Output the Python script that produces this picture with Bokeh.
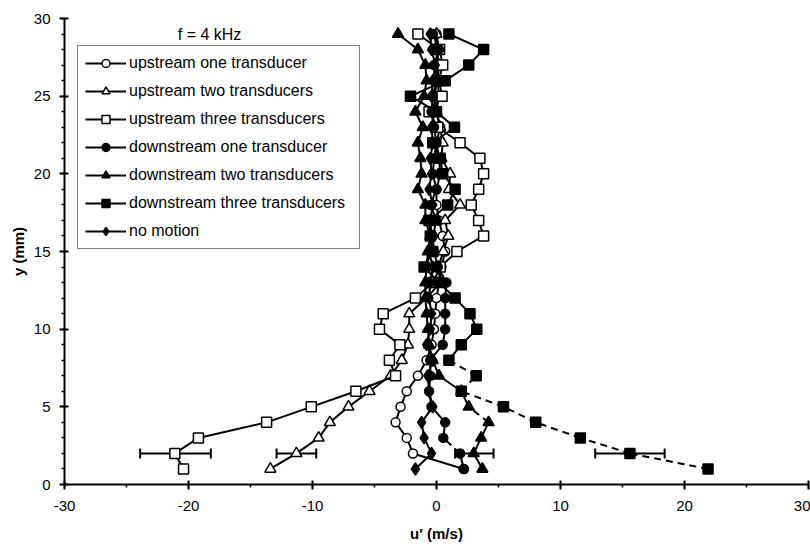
import numpy as np
from bokeh.plotting import figure
from bokeh.models import (Range1d, Legend, LegendItem, Whisker, TeeHead,
                          ColumnDataSource, Label, FixedTicker, CustomJSTickFormatter)
from bokeh.embed import file_html
from bokeh.resources import INLINE

# ---------------- data ----------------
y_mm = list(range(1, 30))

up_one = [2.2, -1.9, -2.4, -3.3, -2.9, -2.4, -1.5, -0.8, -0.4, -0.2, -0.1, 0.0, 0.2, 0.4,
          0.7, 0.5, 0.2, 0.0, 0.0, 0.3, 0.2, 0.0, 0.3, 0.0, 0.2, 0.1, 0.0, 0.2, 0.0]
up_two = [-13.4, -11.3, -9.5, -8.6, -7.1, -5.4, -3.7, -2.8, -2.3, -2.2, -2.2, -0.8, 0.3, 0.15,
          0.55, 0.95, 0.7, 1.9, 1.0, 1.1, 0.4, 0.5, 0.3, 0.0, -0.2, 0.1, 0.2, -0.1, 0.0]
up_three = [-20.4, -21.1, -19.2, -13.7, -10.1, -6.5, -3.3, -3.8, -2.95, -4.6, -4.3, -1.7, -0.3, 0.3,
            1.65, 3.8, 3.4, 2.8, 3.4, 3.8, 3.5, 1.9, 0.1, -0.6, 0.45, 0.2, 0.5, 0.25, -1.5]
down_one = [2.2, 1.9, 0.55, 0.7, -0.4, -0.6, -0.5, -0.5, 0.5, 0.7, 0.7, 0.7, 0.8, 0.1,
            -0.2, -0.3, 0.0, -0.5, 0.0, -0.3, -0.2, 0.0, -0.2, -0.4, -0.3, 0.0, -0.2, 0.2, -0.3]
down_two = [3.7, 3.0, 3.6, 4.2, 2.6, 2.0, 0.2, -0.3, -0.6, -0.7, -0.8, -0.9, -0.9, -0.8,
            -0.7, -0.5, -0.9, -0.9, -1.5, -1.2, -1.3, -1.5, -1.1, -1.7, -1.0, -0.8, -0.9, -1.5, -3.1]
down_three = [21.9, 15.6, 11.6, 8.0, 5.4, 2.0, 3.2, 1.0, 2.0, 3.25, 2.7, 1.5, 0.2, -1.0,
              -0.3, -0.5, -0.6, 0.9, 1.5, 0.5, 0.3, -0.3, 1.45, 0.0, -2.1, 0.7, 2.6, 3.8, 1.0]
no_motion = [-1.7, -0.4, -1.0, -1.2, -0.3, -0.6, -0.7, -0.3, -0.8, -0.5, -0.4, -0.6, -0.5, -0.3,
             -0.6, -0.4, -0.5, -0.3, -0.6, -0.4, -0.5, -0.3, -0.4, -0.2, -0.4, -0.3, -0.1, -0.4, -0.5]

# error bars at y = 2 mm
err_y = [2, 2, 2, 2]
err_lo = [-23.9, -12.9, 1.5, 12.8]
err_hi = [-18.2, -9.7, 4.6, 18.4]

x_ticks = [-30, -20, -10, 0, 10, 20, 30]
y_ticks = [0, 5, 10, 15, 20, 25, 30]

FONT = "Liberation Sans"

p = figure(width=810, height=546, output_backend="svg", toolbar_location=None,
           x_range=Range1d(-30, 30), y_range=Range1d(0, 30),
           min_border_left=64, min_border_right=2, min_border_top=18, min_border_bottom=62)
p.outline_line_color = None
p.xgrid.visible = False
p.ygrid.visible = False
p.background_fill_color = "white"
p.border_fill_color = "white"

plain = CustomJSTickFormatter(code="return String(tick);")
p.xaxis.ticker = FixedTicker(ticks=x_ticks, minor_ticks=list(range(-30, 31, 5)))
p.yaxis.ticker = FixedTicker(ticks=y_ticks, minor_ticks=list(range(0, 31)))
for ax in (p.xaxis[0], p.yaxis[0]):
    ax.formatter = plain
    ax.axis_line_width = 2
    ax.axis_line_color = "black"
    ax.major_tick_line_width = 2
    ax.major_tick_line_color = "black"
    ax.minor_tick_line_width = 1.5
    ax.minor_tick_line_color = "black"
    ax.major_tick_in = 4
    ax.major_tick_out = 5
    ax.minor_tick_in = 0
    ax.minor_tick_out = 3
    ax.major_label_text_font = FONT
    ax.major_label_text_font_size = "15px"
    ax.major_label_text_color = "black"
    ax.axis_label_text_font = FONT
    ax.axis_label_text_font_size = "15px"
    ax.axis_label_text_font_style = "bold"
    ax.axis_label_text_color = "black"
p.yaxis.axis_label = "y (mm)"
p.yaxis.major_label_standoff = 9
p.yaxis.axis_label_standoff = 4
p.xaxis.major_label_standoff = 11
p.xaxis.axis_label = "u\u2032 (m/s)"
p.xaxis.axis_label_standoff = 11

LW = 2


def draw_series(vals, marker, fill, size, dashed=None):
    xs = np.array(vals, dtype=float)
    ys = np.array(y_mm, dtype=float)
    x0, x1, y0, y1 = xs[:-1], xs[1:], ys[:-1], ys[1:]
    if dashed is None:
        mask = np.zeros(len(x0), dtype=bool)
    else:
        mask = (y0 >= dashed[0]) & (y1 <= dashed[1])
    solid = p.segment(x0=x0[~mask], y0=y0[~mask], x1=x1[~mask], y1=y1[~mask],
                      line_color="black", line_width=LW)
    if mask.any():
        p.segment(x0=x0[mask], y0=y0[mask], x1=x1[mask], y1=y1[mask],
                  line_color="black", line_width=LW, line_dash="7 5")
    sc = p.scatter(xs, ys, marker=marker, size=size, fill_color=fill,
                   line_color="black", line_width=1.5)
    return [solid, sc]


series = [
    ("upstream one transducer", up_one, "circle", "white", 9, None),
    ("upstream two transducers", up_two, "triangle", "white", 11, None),
    ("upstream three transducers", up_three, "square", "white", 10, None),
    ("downstream one transducer", down_one, "circle", "black", 9, (2, 3)),
    ("downstream two transducers", down_two, "triangle", "black", 11, (4, 5)),
    ("downstream three transducers", down_three, "square", "black", 10, (1, 8)),
    ("no motion", no_motion, "diamond", "black", 12, None),
]

items = []
for label, vals, marker, fill, size, dashed in series:
    rs = draw_series(vals, marker, fill, size, dashed)
    items.append(LegendItem(label=label, renderers=rs))

esrc = ColumnDataSource(dict(y=err_y, lo=err_lo, hi=err_hi))
p.add_layout(Whisker(base="y", lower="lo", upper="hi", dimension="width", source=esrc,
                     line_width=2, line_color="black",
                     lower_head=TeeHead(size=10, line_width=2, line_color="black"),
                     upper_head=TeeHead(size=10, line_width=2, line_color="black")))

legend = Legend(items=items, location=(13, 235),
                label_text_font=FONT, label_text_font_size="16px",
                label_text_color="black",
                glyph_width=41, glyph_height=20, label_height=20, label_width=223,
                label_standoff=3, spacing=8, padding=7, margin=0,
                border_line_color="black", border_line_width=1.5,
                background_fill_color="white", background_fill_alpha=1)
p.add_layout(legend)

p.add_layout(Label(x=-18.3, y=29.0, text="f = 4 kHz", text_font=FONT, text_color="black",
                   text_font_size="16px", text_align="center", text_baseline="middle"))

open("out.html", "w").write(file_html(p, INLINE))
